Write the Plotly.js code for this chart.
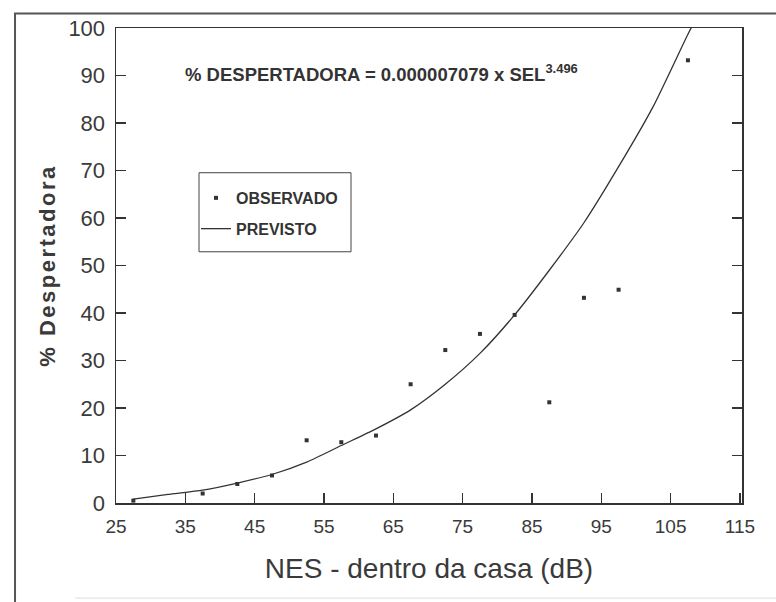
<!DOCTYPE html>
<html><head><meta charset="utf-8">
<script src="https://cdn.plot.ly/plotly-3.0.1.min.js"></script>
<style>
html,body{margin:0;padding:0;background:#fff}
.ytitle{letter-spacing:2.5px}
</style>
</head><body><div id="chart" style="width:776px;height:602px"></div>
<script>
// Observed points (NES inside the house, dB) and % awakenings
const obsX = [27.5, 37.5, 42.5, 47.5, 52.5, 57.5, 62.5, 67.5, 72.5, 77.5, 82.5, 87.5, 92.5, 97.5, 107.5];
const obsY = [0.5, 2.0, 4.0, 5.8, 13.2, 12.8, 14.2, 25.0, 32.2, 35.6, 39.6, 21.2, 43.2, 44.9, 93.2];
// Predicted curve
const predX = [27.5, 32.5, 37.5, 42.5, 47.5, 52.5, 57.5, 62.5, 67.5, 72.5, 77.5, 82.5, 87.5, 92.5, 97.5, 102.5, 107.5, 108.5];
const predY = [0.8, 1.8, 2.7, 4.2, 6.0, 8.6, 12.1, 15.6, 19.6, 25.0, 31.5, 39.6, 49.0, 59.0, 70.8, 83.5, 98.7, 101.5];
const xTicks = [25, 35, 45, 55, 65, 75, 85, 95, 105, 115];
const yTicks = [0, 10, 20, 30, 40, 50, 60, 70, 80, 90, 100];
const seriesNames = ['OBSERVADO', 'PREVISTO'];
const equation = '% DESPERTADORA = 0.000007079 x SEL<sup>3.496</sup>';
const xTitle = 'NES - dentro da casa (dB)';
const yTitle = '% Despertadora';

const ink = '#333333';
const sans = 'Liberation Sans, Arial, sans-serif';
const traces = [
  {x: obsX, y: obsY, name: seriesNames[0], type: 'scatter', mode: 'markers',
   legendgroup: 'a',
   marker: {symbol: 'square', size: 4, color: ink}},
  {x: predX, y: predY, name: seriesNames[1], type: 'scatter', mode: 'lines',
   legendgroup: 'b',
   line: {color: ink, width: 1.3, shape: 'spline', smoothing: 0.6}}
];

const layout = {
  width: 776, height: 602,
  margin: {l: 116, r: 34, t: 28, b: 99},
  paper_bgcolor: '#ffffff', plot_bgcolor: '#ffffff',
  showlegend: true,
  legend: {x: 0.1278, y: 0.678, xanchor: 'left', yanchor: 'top',
    borderwidth: 0, bgcolor: 'rgba(0,0,0,0)',
    tracegroupgap: 7,
    font: {family: sans, size: 16, color: ink, weight: 'bold'}},
  xaxis: {
    range: [25, 115.3], tickvals: xTicks, ticktext: xTicks.map(String),
    ticks: 'inside', ticklen: 10, tickwidth: 1.2, tickcolor: ink,
    showline: true, linecolor: ink, linewidth: 1.5, mirror: true,
    showgrid: false, zeroline: false,
    ticklabelstandoff: 6,
    tickfont: {family: sans, size: 19, color: '#3a3a3a'},
    title: {text: xTitle, standoff: 22,
      font: {family: sans, size: 28, color: '#3a3a3a'}}
  },
  yaxis: {
    range: [0, 100], tickvals: yTicks, ticktext: yTicks.map(String),
    ticks: 'inside', ticklen: 10, tickwidth: 1.2, tickcolor: ink,
    showline: true, linecolor: ink, linewidth: 1.5, mirror: 'ticks',
    showgrid: false, zeroline: false,
    ticklabelstandoff: 5,
    tickfont: {family: sans, size: 22, color: '#3a3a3a'},
    title: {text: yTitle, standoff: 6,
      font: {family: sans, size: 22, color: '#3a3a3a', weight: 'bold'}}
  },
  annotations: [{
    xref: 'x', yref: 'y', x: 34.7, y: 90.6, xanchor: 'left', yanchor: 'middle',
    text: equation, showarrow: false,
    font: {family: sans, size: 18.5, color: ink, weight: 'bold'}
  }],
  shapes: [
    {type: 'rect', xref: 'paper', yref: 'paper', x0: -0.1613, x1: 1.12, y0: -0.35, y1: 1.0303,
     line: {color: '#555', width: 2}, fillcolor: 'rgba(0,0,0,0)', layer: 'above'},
    {type: 'line', xref: 'paper', yref: 'paper', x0: -0.0655, x1: 1.12, y0: -0.2002, y1: -0.2002,
     line: {color: '#dddddd', width: 1}, layer: 'below'},
    {type: 'rect', xref: 'paper', yref: 'paper', x0: 0.1326, x1: 0.3754, y0: 0.5289, y1: 0.6953,
     line: {color: '#444', width: 1}, fillcolor: 'rgba(0,0,0,0)', layer: 'above'}
  ]
};

Plotly.newPlot('chart', traces, layout, {displayModeBar: false, staticPlot: true});
</script>
</body></html>
